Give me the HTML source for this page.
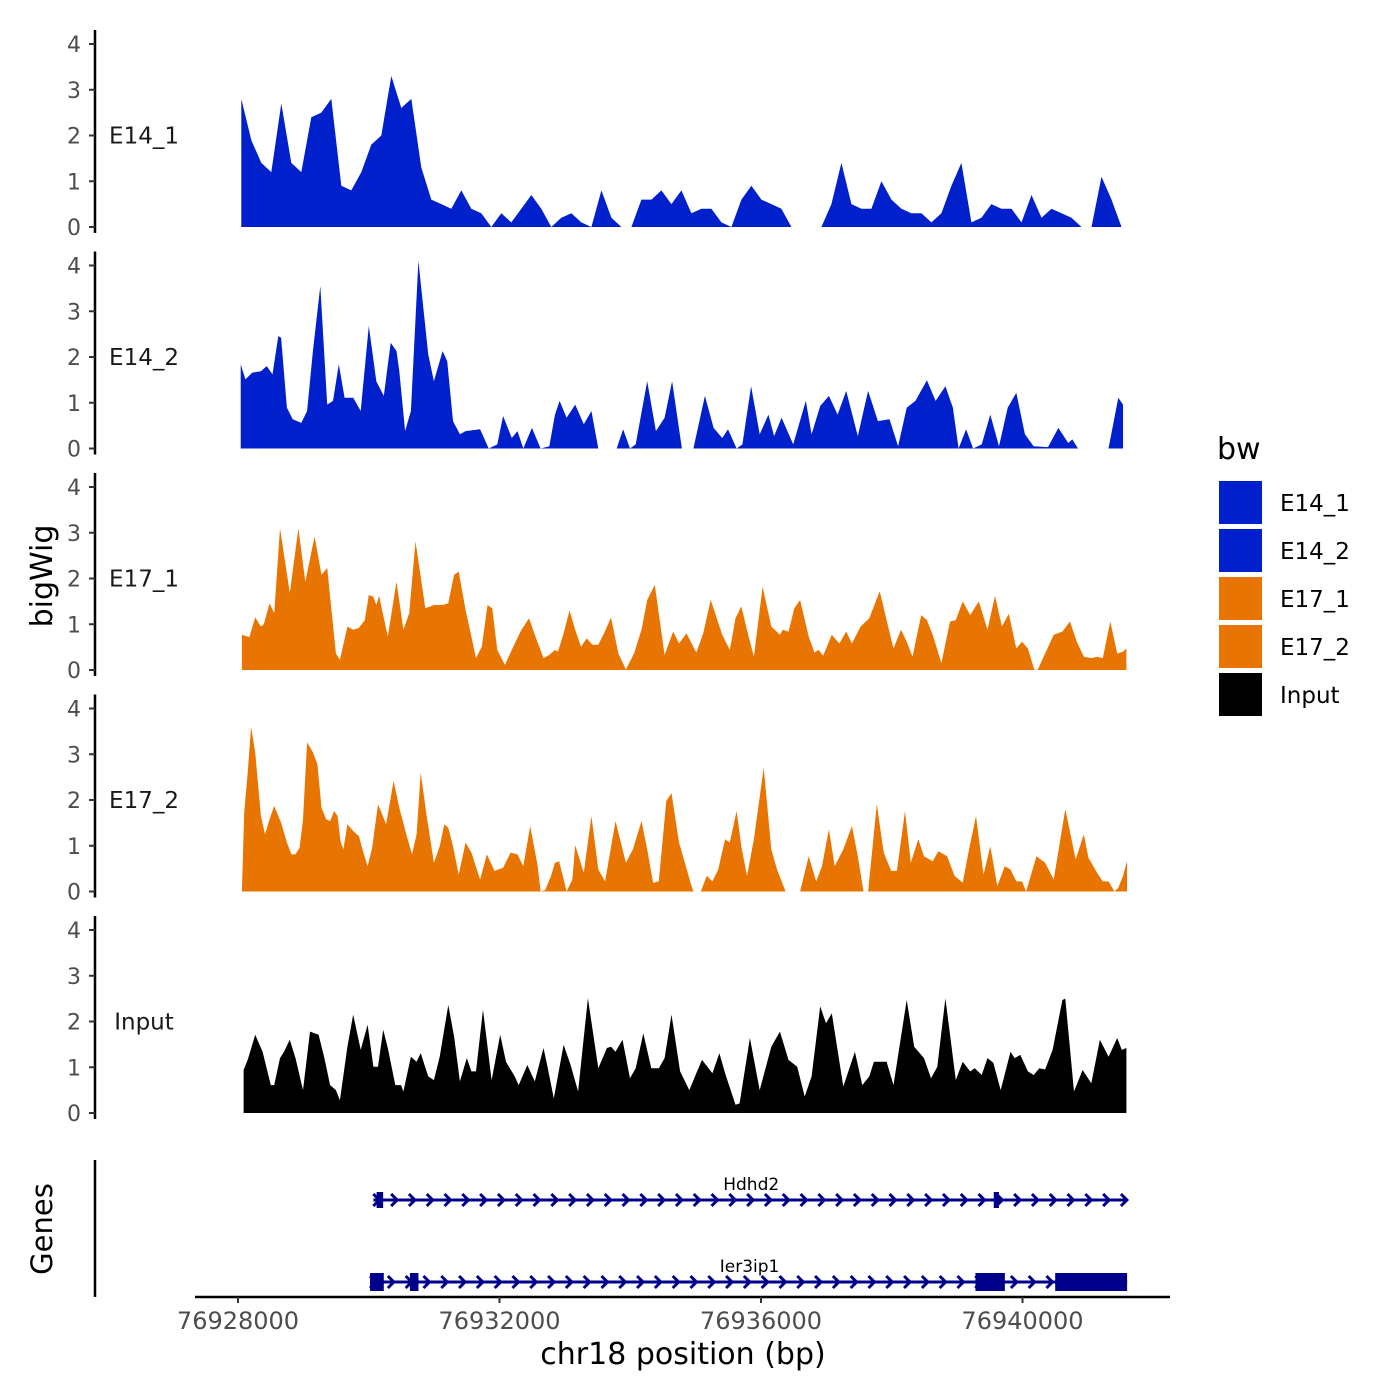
<!DOCTYPE html>
<html><head><meta charset="utf-8"><style>
body{margin:0;background:#fff}
svg{display:block}
text{font-family:"DejaVu Sans","Liberation Sans",sans-serif}
</style></head><body>
<svg id="chart" width="1400" height="1400" viewBox="0 0 1400 1400" xmlns="http://www.w3.org/2000/svg">
<rect width="1400" height="1400" fill="#fff"/>
<g id="tracks"></g>
<g id="axes"></g>
<g id="genes"></g>
<g id="legend"></g>
</svg>
<script>
const START = 76928000;
const xTicks = [76928000, 76932000, 76936000, 76940000];
const yTicks = [0, 1, 2, 3, 4];
const trackNames = ["E14_1", "E14_2", "E17_1", "E17_2", "Input"];
const trackColors = ["#0020CC", "#0020CC", "#E87502", "#E87502", "#000000"];

const pos_E14_1 = [50,203,356,509,662,815,968,1121,1274,1427,1580,1733,1886,2039,2192,2345,2498,2651,2804,2957,3110,3263,3416,3569,3722,3875,4028,4181,4334,4487,4640,4793,4946,5099,5252,5405,5558,5711,5864,6017,6170,6323,6476,6629,6782,6935,7088,7241,7394,7547,7700,7853,8006,8159,8312,8465,8618,8771,8924,9077,9230,9383,9536,9689,9842,9995,10148,10301,10454,10607,10760,10913,11066,11219,11372,11525,11678,11831,11984,12137,12290,12443,12596,12749,12902,13055,13208,13361,13514];
const val_E14_1 = [2.8,1.9,1.4,1.2,2.7,1.4,1.2,2.4,2.5,2.8,0.9,0.8,1.2,1.8,2.0,3.3,2.6,2.8,1.3,0.6,0.5,0.4,0.8,0.4,0.3,0,0.3,0.1,0.4,0.7,0.4,0,0.2,0.3,0.1,0,0.8,0.2,0,0,0.6,0.6,0.8,0.5,0.8,0.3,0.4,0.4,0.1,0,0.6,0.9,0.6,0.5,0.4,0,0,0,0,0.5,1.4,0.5,0.4,0.4,1.0,0.6,0.4,0.3,0.3,0.1,0.3,0.9,1.4,0.1,0.2,0.5,0.4,0.4,0.1,0.7,0.2,0.4,0.3,0.2,0,0,1.1,0.6,0];

const pos_E14_2 = [42,113,219,351,439,527,616,660,748,836,968,1057,1145,1259,1365,1453,1542,1630,1762,1877,2000,2115,2230,2335,2424,2468,2556,2644,2759,2909,2997,3129,3200,3288,3394,3482,3703,3835,3967,4055,4188,4276,4364,4496,4629,4761,4849,4920,5026,5158,5290,5405,5511,5793,5890,5996,6084,6260,6393,6525,6640,6790,6966,7142,7275,7407,7495,7627,7716,7848,7980,8113,8201,8315,8492,8686,8774,8906,9039,9171,9303,9480,9638,9788,9965,10097,10229,10362,10538,10670,10820,10935,11023,11138,11244,11376,11508,11641,11773,11905,12037,12170,12390,12549,12699,12761,12849,13316,13466,13537];
const val_E14_2 = [1.84,1.51,1.66,1.69,1.8,1.62,2.46,2.42,0.89,0.64,0.56,0.82,2.13,3.55,0.96,1.04,1.84,1.11,1.11,0.82,2.68,1.47,1.15,2.31,2.13,1.69,0.38,0.82,4.1,2.06,1.47,2.13,1.91,0.6,0.31,0.38,0.42,0,0.09,0.71,0.23,0.38,0,0.45,0,0.05,0.74,1.04,0.67,0.96,0.53,0.82,0,0,0.42,0,0.09,1.47,0.38,0.67,1.47,0,0,1.15,0.45,0.23,0.42,0,0.09,1.36,0.31,0.74,0.27,0.67,0.09,1.04,0.31,0.93,1.15,0.74,1.26,0.27,1.26,0.6,0.64,0.05,0.89,1.04,1.49,1.04,1.36,0.89,0,0.42,0,0.09,0.74,0.05,0.89,1.22,0.31,0.05,0.03,0.45,0.12,0.2,0,0,1.11,0.96];

const pos_E17_1 = [60,175,263,351,395,483,554,642,792,924,1030,1171,1277,1365,1498,1559,1674,1762,1850,1939,2000,2071,2115,2159,2291,2424,2530,2618,2715,2865,2997,3129,3217,3306,3376,3482,3570,3641,3729,3817,3888,3967,4082,4188,4320,4452,4540,4673,4761,4849,4893,4981,5070,5158,5246,5334,5422,5511,5599,5705,5819,5934,6057,6172,6260,6375,6525,6657,6745,6860,7010,7116,7231,7407,7522,7610,7698,7804,7892,8024,8157,8289,8333,8421,8509,8598,8730,8818,8880,8950,9083,9198,9303,9391,9524,9656,9815,9921,10027,10141,10229,10318,10450,10538,10626,10759,10891,10979,11085,11200,11332,11464,11579,11685,11791,11905,11993,12082,12179,12231,12346,12478,12611,12725,12831,12937,13052,13140,13228,13343,13449,13537,13590];
const val_E17_1 = [0.77,0.72,1.15,0.95,1.0,1.46,1.24,3.1,1.68,3.1,1.93,2.92,2.08,2.23,0.36,0.22,0.95,0.88,0.92,1.09,1.64,1.6,1.42,1.62,0.73,1.93,0.88,1.24,2.81,1.35,1.42,1.42,1.46,2.08,2.15,1.31,0.73,0.26,0.51,1.42,1.35,0.44,0.11,0.44,0.84,1.13,0.77,0.26,0.33,0.44,0.4,0.8,1.3,0.88,0.51,0.69,0.55,0.55,0.8,1.15,0.36,0.01,0.36,0.88,1.53,1.86,0.33,0.84,0.58,0.8,0.38,0.8,1.53,0.77,0.44,1.13,1.39,0.77,0.29,1.82,0.95,0.77,0.88,0.84,1.35,1.53,0.73,0.38,0.44,0.31,0.77,0.58,0.84,0.58,0.95,1.13,1.72,1.09,0.47,0.88,0.62,0.29,1.2,1.09,0.77,0.15,1.06,1.09,1.5,1.2,1.5,0.88,1.62,0.95,1.23,0.47,0.62,0.47,0.01,0,0.36,0.77,0.84,1.06,0.62,0.29,0.26,0.29,0.26,1.06,0.36,0.4,0.47];

const pos_E17_2 = [60,95,148,201,263,351,413,483,554,660,748,818,880,942,995,1057,1145,1215,1277,1348,1409,1471,1524,1568,1612,1674,1762,1850,1912,1983,2053,2141,2265,2380,2468,2582,2662,2732,2794,2882,2997,3085,3156,3217,3288,3376,3482,3570,3703,3808,3923,4055,4170,4276,4364,4470,4585,4629,4699,4787,4849,4911,5026,5114,5158,5290,5405,5511,5616,5775,5934,6040,6172,6260,6349,6437,6551,6631,6745,6851,6922,6966,7081,7169,7257,7345,7451,7522,7627,7698,7786,7892,8042,8157,8245,8377,8598,8730,8845,8933,9039,9127,9259,9391,9480,9568,9638,9771,9877,9991,10079,10203,10291,10406,10494,10626,10714,10847,10961,11085,11173,11288,11403,11508,11614,11729,11817,11905,11993,12055,12214,12346,12478,12655,12814,12937,13008,13140,13228,13317,13405,13466,13537,13599];
const val_E17_2 = [0,1.72,2.6,3.6,3.04,1.65,1.25,1.58,1.87,1.5,1.07,0.81,0.81,0.96,1.58,3.26,3.04,2.78,1.83,1.58,1.54,1.76,1.65,1.1,0.92,1.47,1.32,1.21,0.88,0.55,0.96,1.91,1.47,2.42,1.83,1.21,0.81,1.25,2.6,1.69,0.63,0.99,1.47,1.39,0.99,0.37,1.07,0.85,0.26,0.81,0.45,0.52,0.85,0.81,0.55,1.43,0.55,0,0.03,0.34,0.63,0.66,0,0.26,1.01,0.41,1.65,0.48,0.22,1.54,0.63,0.92,1.54,0.92,0.19,0.22,1.98,2.15,1.07,0.55,0.19,0,0,0.34,0.22,0.48,1.14,1.07,1.76,0.99,0.34,1.14,2.71,0.92,0.48,0,0,0.77,0.22,0.55,1.36,0.55,0.92,1.43,0.77,0,0,1.91,0.85,0.45,0.45,1.76,0.63,1.14,0.77,0.66,0.88,0.77,0.34,0.19,0.85,1.65,0.37,0.99,0.12,0.55,0.48,0.22,0.22,0,0.77,0.63,0.26,1.8,0.7,1.25,0.74,0.41,0.22,0.22,0,0.08,0.34,0.66];

const pos_Input = [86,148,263,377,501,554,642,704,792,880,995,1101,1233,1321,1409,1498,1559,1674,1762,1877,1983,2071,2141,2221,2291,2406,2494,2530,2644,2732,2794,2909,2997,3085,3217,3306,3394,3500,3570,3641,3747,3879,4011,4099,4232,4293,4426,4540,4673,4734,4831,4981,5087,5202,5352,5511,5643,5705,5775,5881,5996,6084,6199,6322,6437,6525,6631,6763,6904,7010,7098,7257,7363,7451,7610,7672,7830,7980,8157,8289,8421,8554,8668,8774,8906,8995,9083,9259,9436,9550,9656,9727,9921,10027,10229,10344,10494,10600,10697,10820,10979,11085,11200,11270,11376,11464,11553,11667,11817,11879,11967,12082,12170,12258,12346,12461,12611,12655,12787,12919,13052,13184,13317,13449,13519,13590];
const val_Input = [0.94,1.16,1.71,1.34,0.61,0.61,1.2,1.34,1.6,1.2,0.5,1.78,1.71,1.2,0.61,0.5,0.28,1.45,2.15,1.38,1.93,1.01,1.01,1.82,1.42,0.61,0.61,0.47,1.23,1.12,1.31,0.8,0.72,1.23,2.36,1.67,0.69,1.2,0.91,0.91,2.26,0.72,1.71,1.12,0.8,0.61,1.05,0.69,1.42,1.01,0.32,1.49,1.05,0.47,2.51,0.98,1.42,1.45,1.34,1.6,0.76,0.98,1.74,0.98,0.98,1.2,2.15,0.91,0.5,0.87,1.16,0.87,1.31,0.87,0.18,0.21,1.64,0.5,1.45,1.78,1.16,1.01,0.36,0.8,2.33,1.96,2.18,0.58,1.34,0.61,0.8,1.12,1.12,0.61,2.47,1.45,1.2,0.76,1.01,2.51,0.72,1.12,0.91,0.98,0.83,1.2,1.1,0.5,1.34,1.2,1.27,0.91,0.83,0.98,0.95,1.38,2.47,2.5,0.47,0.94,0.65,1.6,1.23,1.64,1.38,1.42];

const positions = [pos_E14_1, pos_E14_2, pos_E17_1, pos_E17_2, pos_Input];
const values = [val_E14_1, val_E14_2, val_E17_1, val_E17_2, val_Input];

const NS = "http://www.w3.org/2000/svg";
function mk(tag, attrs, parent){const e=document.createElementNS(NS,tag);for(const k in attrs)e.setAttribute(k,attrs[k]);parent.appendChild(e);return e;}
function xScale(bp){return 238 + (bp - START) * (261.5/4000);}
const PANEL_STEP = 221.5, BASE0 = 227, UNIT = 45.75;
function yScale(k, v){return BASE0 + k*PANEL_STEP - v*UNIT;}

const tracks = document.getElementById('tracks');
const axes = document.getElementById('axes');
const GREY = "#4D4D4D";

for (let k = 0; k < trackNames.length; k++) {
  const ps = positions[k], vs = values[k];
  const n = Math.min(ps.length, vs.length);
  const base = yScale(k, 0);
  let d = "M" + xScale(START + ps[0]).toFixed(1) + "," + base;
  for (let i = 0; i < n; i++) d += "L" + xScale(START + ps[i]).toFixed(1) + "," + yScale(k, vs[i]).toFixed(1);
  d += "L" + xScale(START + ps[n-1]).toFixed(1) + "," + base + "Z";
  const area = mk('path', {d: d, fill: trackColors[k]}, tracks);
  
  

  const yl = mk('line', {x1: 95, x2: 95, y1: yScale(k, 4) - 14, y2: base + 6, stroke: "#000", "stroke-width": 2.5}, axes);
  
  
  for (const t of yTicks) {
    const y = yScale(k, t);
    const tk = mk('line', {x1: 89, x2: 95, y1: y, y2: y, stroke: "#333", "stroke-width": 2}, axes);
    
    
    const tl = mk('text', {x: 81, y: y + 8, "text-anchor": "end", "font-size": 22, fill: GREY}, axes);
    tl.textContent = t;
    
    
  }
  const lbl = mk('text', {x: 144, y: yScale(k, 2) + 8, "text-anchor": "middle", "font-size": 23, fill: "#1a1a1a"}, axes);
  lbl.textContent = trackNames[k];
  
  
}

const xl = mk('line', {x1: 195, x2: 1170, y1: 1297, y2: 1297, stroke: "#000", "stroke-width": 2.5}, axes);


for (const t of xTicks) {
  const x = xScale(t);
  const tk = mk('line', {x1: x, x2: x, y1: 1297, y2: 1303, stroke: "#333", "stroke-width": 2}, axes);
  
  
  const tl = mk('text', {x: x, y: 1329, "text-anchor": "middle", "font-size": 24, fill: GREY}, axes);
  tl.textContent = t;
  
  
}
const xt = mk('text', {x: 683, y: 1364, "text-anchor": "middle", "font-size": 30, fill: "#000"}, axes);
xt.textContent = "chr18 position (bp)";


const yt = mk('text', {x: 0, y: 0, transform: "translate(52,576) rotate(-90)", "text-anchor": "middle", "font-size": 30, fill: "#000"}, axes);
yt.textContent = "bigWig";



const genesG = document.getElementById('genes');
const NAVY = "#00008B";
const gl = mk('line', {x1: 95, x2: 95, y1: 1160, y2: 1297, stroke: "#000", "stroke-width": 2.5}, genesG);


const gt = mk('text', {x: 0, y: 0, transform: "translate(52,1229) rotate(-90)", "text-anchor": "middle", "font-size": 29, fill: "#000"}, genesG);
gt.textContent = "Genes";



const geneNames = ["Hdhd2", "Ier3ip1"];
const geneStart = [76930070, 76930020];
const geneEnd = [76941600, 76941600];
const geneExons = [[[76930120, 76930220, 16], [76939560, 76939640, 16]],
                   [[76930020, 76930230, 18], [76930630, 76930760, 18], [76939280, 76939730, 18], [76940500, 76941600, 18]]];
const geneY = [1200, 1282];
for (let g = 0; g < geneNames.length; g++) {
  const y = geneY[g];
  const x1 = xScale(geneStart[g]), x2 = xScale(geneEnd[g]);
  const ln = mk('line', {x1: x1, x2: x2, y1: y, y2: y, stroke: NAVY, "stroke-width": 3}, genesG);
  
  
  for (let x = x1 + 5; x <= x2; x += 17.8) {
    const ch = mk('path', {d: `M${x-5},${y-6}L${x+1},${y}L${x-5},${y+6}`, stroke: NAVY, "stroke-width": 3, fill: "none"}, genesG);
    
    
  }
  for (const ex of geneExons[g]) {
    const ea = xScale(ex[0]), eb = xScale(ex[1]);
    const r = mk('rect', {x: ea, y: y - ex[2]/2, width: Math.max(eb - ea, 5), height: ex[2], fill: NAVY}, genesG);
    
    
  }
  const t = mk('text', {x: xScale((geneStart[g] + geneEnd[g]) / 2) + 1, y: y - 10, "text-anchor": "middle", "font-size": 17, fill: "#000"}, genesG);
  t.textContent = geneNames[g];
  
  
}

const lg = document.getElementById('legend');
const lt = mk('text', {x: 1217, y: 459, "font-size": 30, fill: "#000"}, lg);
lt.textContent = "bw";


for (let k = 0; k < trackNames.length; k++) {
  const y = 480 + k * 48;
  const r = mk('rect', {x: 1218, y: y, width: 45, height: 45, fill: trackColors[k], stroke: "#fff", "stroke-width": 2}, lg);
  
  
  const t = mk('text', {x: 1280, y: y + 31, "font-size": 23, fill: "#000"}, lg);
  t.textContent = trackNames[k];
  
  
}
</script>
</body></html>
